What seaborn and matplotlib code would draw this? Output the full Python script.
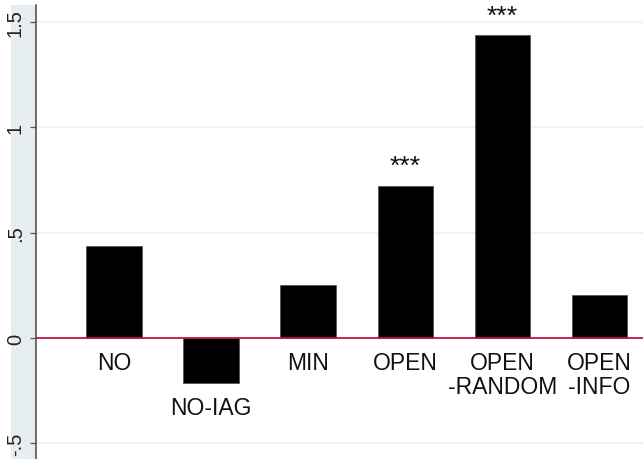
import matplotlib
matplotlib.use("Agg")
import matplotlib.pyplot as plt
import seaborn as sns
import pandas as pd
from matplotlib.patches import Rectangle

# Treatment effects by condition
conditions = ["NO", "NO-IAG", "MIN", "OPEN", "OPEN-RANDOM", "OPEN-INFO"]
bar_labels = ["NO", "NO-IAG", "MIN", "OPEN", "OPEN\n-RANDOM", "OPEN\n-INFO"]
effects = [0.438, -0.215, 0.252, 0.724, 1.439, 0.204]
stars = ["", "", "", "***", "***", ""]
yticks = [-0.5, 0, 0.5, 1, 1.5]
ytick_labels = ["-.5", "0", ".5", "1", "1.5"]

df = pd.DataFrame({"condition": conditions, "effect": effects})

sns.set_theme(style="white")
plt.rcParams["font.family"] = ["Liberation Sans", "DejaVu Sans"]

W, H = 643, 460
fig = plt.figure(figsize=(W / 100, H / 100), dpi=100)
fig.patch.set_facecolor("white")

# light side band behind the y-axis labels
fig.patches.append(Rectangle((11 / W, 0), 25 / W, (H - 6) / H,
                             transform=fig.transFigure, facecolor="#e6eef1",
                             edgecolor="none", zorder=-1))

ax = fig.add_axes([36 / W, 0, 1 - 36 / W, (H - 6) / H])
ax.set_facecolor("white")

sns.barplot(data=df, x="condition", y="effect", order=conditions,
            color="black", width=0.573, errorbar=None, ax=ax,
            edgecolor="#555555", linewidth=0.6, saturation=1, zorder=3)

ax.set_ylim(-0.575, 1.582)
ax.set_xlim(-0.803, 5.447)

# grid and zero reference line
for t in yticks:
    if t != 0:
        ax.axhline(t, color="#eaf2f4", linewidth=1.2, zorder=1)
ax.axhline(0, color="#c4153d", linewidth=1.3, zorder=4)

ax.set_yticks(yticks)
ax.set_yticklabels(ytick_labels, rotation=90, va="center", fontsize=14.5,
                   color="#222222")
ax.tick_params(axis="y", which="major", left=True, length=4.5, width=0.9,
               color="#555555", pad=3.5)
ax.set_xticks([])
ax.set_xlabel("")
ax.set_ylabel("")

for side in ["top", "right", "bottom"]:
    ax.spines[side].set_visible(False)
ax.spines["left"].set_color("#444444")
ax.spines["left"].set_linewidth(1.1)

# category labels under each bar and significance markers above
for i, (lab, val, st) in enumerate(zip(bar_labels, effects, stars)):
    base = min(val, 0)
    ax.annotate(lab, xy=(i, base), xytext=(0, -9.5), textcoords="offset points",
                ha="center", va="top", fontsize=16.5, color="#111111",
                linespacing=1.05, zorder=5)
    if st:
        ax.annotate(st, xy=(i, val), xytext=(0, 14), textcoords="offset points",
                    ha="center", va="center", fontsize=19, color="#111111",
                    zorder=5)

fig.savefig("out.png", dpi=100, facecolor="white")
